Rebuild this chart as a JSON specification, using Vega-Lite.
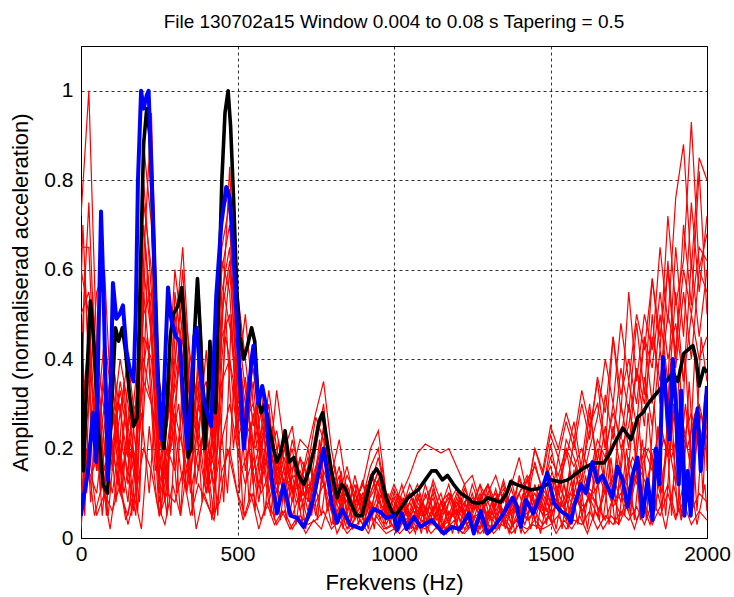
{
"$schema":"https://vega.github.io/schema/vega-lite/v6.json",
"autosize":"none",
"width":626,"height":492,
"padding":{"left":81,"top":46,"right":27,"bottom":59},
"background":"white",
"config":{"view":{"stroke":"#000","strokeWidth":1},"font":"Liberation Sans",
"axis":{"labelFont":"Liberation Sans","titleFont":"Liberation Sans","labelFontSize":21,"titleFontSize":22,"titleFontWeight":"normal","labelColor":"#000","titleColor":"#000","domainColor":"#000","grid":true,"gridColor":"#000","gridDash":[3,3],"gridOpacity":0.8,"gridWidth":1,"ticks":false,"labelFlush":false}},
"title":{"text":"File 130702a15 Window 0.004 to 0.08 s Tapering = 0.5","fontSize":19,"fontWeight":"normal","font":"Liberation Sans","color":"#000","offset":14,"anchor":"middle"},
"datasets":{
"red":[
{"s":1,"f":0,"a":0.72},{"s":1,"f":25,"a":1.0},{"s":1,"f":50,"a":0.42},{"s":1,"f":75,"a":0.28},{"s":1,"f":100,"a":0.18},{"s":1,"f":125,"a":0.33},{"s":1,"f":150,"a":0.22},{"s":1,"f":175,"a":0.12},{"s":1,"f":200,"a":0.62},{"s":1,"f":225,"a":0.95},
{"s":1,"f":250,"a":0.3},{"s":1,"f":275,"a":0.12},{"s":1,"f":300,"a":0.38},{"s":1,"f":325,"a":0.6},{"s":1,"f":350,"a":0.28},{"s":1,"f":375,"a":0.22},{"s":1,"f":400,"a":0.42},{"s":1,"f":425,"a":0.18},{"s":1,"f":450,"a":0.48},{"s":1,"f":475,"a":0.83},
{"s":1,"f":500,"a":0.42},{"s":1,"f":525,"a":0.3},{"s":1,"f":550,"a":0.38},{"s":1,"f":575,"a":0.22},{"s":1,"f":600,"a":0.28},{"s":1,"f":625,"a":0.15},{"s":1,"f":650,"a":0.2},{"s":1,"f":675,"a":0.1},{"s":1,"f":700,"a":0.18},{"s":1,"f":725,"a":0.08},
{"s":1,"f":750,"a":0.2},{"s":1,"f":775,"a":0.3},{"s":1,"f":800,"a":0.12},{"s":1,"f":825,"a":0.06},{"s":1,"f":850,"a":0.11},{"s":1,"f":875,"a":0.04},{"s":1,"f":900,"a":0.09},{"s":1,"f":925,"a":0.16},{"s":1,"f":950,"a":0.2},{"s":1,"f":975,"a":0.07},
{"s":1,"f":1000,"a":0.04},{"s":1,"f":1025,"a":0.09},{"s":1,"f":1050,"a":0.03},{"s":1,"f":1075,"a":0.07},{"s":1,"f":1100,"a":0.05},{"s":1,"f":1125,"a":0.09},{"s":1,"f":1150,"a":0.02},{"s":1,"f":1175,"a":0.06},{"s":1,"f":1200,"a":0.04},{"s":1,"f":1225,"a":0.08},
{"s":1,"f":1250,"a":0.03},{"s":1,"f":1275,"a":0.09},{"s":1,"f":1300,"a":0.05},{"s":1,"f":1325,"a":0.11},{"s":1,"f":1350,"a":0.04},{"s":1,"f":1375,"a":0.09},{"s":1,"f":1400,"a":0.06},{"s":1,"f":1425,"a":0.13},{"s":1,"f":1450,"a":0.07},{"s":1,"f":1475,"a":0.11},
{"s":1,"f":1500,"a":0.08},{"s":1,"f":1525,"a":0.18},{"s":1,"f":1550,"a":0.1},{"s":1,"f":1575,"a":0.22},{"s":1,"f":1600,"a":0.13},{"s":1,"f":1625,"a":0.28},{"s":1,"f":1650,"a":0.17},{"s":1,"f":1675,"a":0.32},{"s":1,"f":1700,"a":0.22},{"s":1,"f":1725,"a":0.38},
{"s":1,"f":1750,"a":0.28},{"s":1,"f":1775,"a":0.48},{"s":1,"f":1800,"a":0.32},{"s":1,"f":1825,"a":0.58},{"s":1,"f":1850,"a":0.42},{"s":1,"f":1875,"a":0.72},{"s":1,"f":1900,"a":0.52},{"s":1,"f":1925,"a":0.62},{"s":1,"f":1950,"a":0.93},{"s":1,"f":1975,"a":0.6},{"s":1,"f":2000,"a":0.68},
{"s":2,"f":0,"a":0.6},{"s":2,"f":25,"a":0.5},{"s":2,"f":50,"a":0.2},{"s":2,"f":75,"a":0.35},{"s":2,"f":100,"a":0.15},{"s":2,"f":125,"a":0.28},{"s":2,"f":150,"a":0.4},{"s":2,"f":175,"a":0.25},{"s":2,"f":200,"a":0.88},{"s":2,"f":225,"a":0.7},
{"s":2,"f":250,"a":0.15},{"s":2,"f":275,"a":0.25},{"s":2,"f":300,"a":0.5},{"s":2,"f":325,"a":0.35},{"s":2,"f":350,"a":0.2},{"s":2,"f":375,"a":0.38},{"s":2,"f":400,"a":0.15},{"s":2,"f":425,"a":0.3},{"s":2,"f":450,"a":0.72},{"s":2,"f":475,"a":0.78},
{"s":2,"f":500,"a":0.55},{"s":2,"f":525,"a":0.4},{"s":2,"f":550,"a":0.25},{"s":2,"f":575,"a":0.33},{"s":2,"f":600,"a":0.18},{"s":2,"f":625,"a":0.24},{"s":2,"f":650,"a":0.14},{"s":2,"f":675,"a":0.2},{"s":2,"f":700,"a":0.09},{"s":2,"f":725,"a":0.16},
{"s":2,"f":750,"a":0.27},{"s":2,"f":775,"a":0.22},{"s":2,"f":800,"a":0.08},{"s":2,"f":825,"a":0.14},{"s":2,"f":850,"a":0.06},{"s":2,"f":875,"a":0.12},{"s":2,"f":900,"a":0.04},{"s":2,"f":925,"a":0.1},{"s":2,"f":950,"a":0.15},{"s":2,"f":975,"a":0.05},
{"s":2,"f":1000,"a":0.09},{"s":2,"f":1025,"a":0.04},{"s":2,"f":1050,"a":0.1},{"s":2,"f":1075,"a":0.05},{"s":2,"f":1100,"a":0.12},{"s":2,"f":1125,"a":0.06},{"s":2,"f":1150,"a":0.1},{"s":2,"f":1175,"a":0.03},{"s":2,"f":1200,"a":0.08},{"s":2,"f":1225,"a":0.05},
{"s":2,"f":1250,"a":0.1},{"s":2,"f":1275,"a":0.04},{"s":2,"f":1300,"a":0.12},{"s":2,"f":1325,"a":0.06},{"s":2,"f":1350,"a":0.1},{"s":2,"f":1375,"a":0.03},{"s":2,"f":1400,"a":0.14},{"s":2,"f":1425,"a":0.08},{"s":2,"f":1450,"a":0.17},{"s":2,"f":1475,"a":0.1},
{"s":2,"f":1500,"a":0.21},{"s":2,"f":1525,"a":0.12},{"s":2,"f":1550,"a":0.18},{"s":2,"f":1575,"a":0.26},{"s":2,"f":1600,"a":0.15},{"s":2,"f":1625,"a":0.24},{"s":2,"f":1650,"a":0.35},{"s":2,"f":1675,"a":0.2},{"s":2,"f":1700,"a":0.45},{"s":2,"f":1725,"a":0.28},
{"s":2,"f":1750,"a":0.55},{"s":2,"f":1775,"a":0.35},{"s":2,"f":1800,"a":0.5},{"s":2,"f":1825,"a":0.42},{"s":2,"f":1850,"a":0.65},{"s":2,"f":1875,"a":0.48},{"s":2,"f":1900,"a":0.76},{"s":2,"f":1925,"a":0.88},{"s":2,"f":1950,"a":0.6},{"s":2,"f":1975,"a":0.85},{"s":2,"f":2000,"a":0.8},
{"s":3,"f":0,"a":0.4},{"s":3,"f":25,"a":0.75},{"s":3,"f":50,"a":0.3},{"s":3,"f":75,"a":0.1},{"s":3,"f":100,"a":0.35},{"s":3,"f":125,"a":0.2},{"s":3,"f":150,"a":0.08},{"s":3,"f":175,"a":0.3},{"s":3,"f":200,"a":0.75},{"s":3,"f":225,"a":0.6},
{"s":3,"f":250,"a":0.25},{"s":3,"f":275,"a":0.1},{"s":3,"f":300,"a":0.45},{"s":3,"f":325,"a":0.65},{"s":3,"f":350,"a":0.35},{"s":3,"f":375,"a":0.25},{"s":3,"f":400,"a":0.1},{"s":3,"f":425,"a":0.28},{"s":3,"f":450,"a":0.6},{"s":3,"f":475,"a":0.7},
{"s":3,"f":500,"a":0.35},{"s":3,"f":525,"a":0.5},{"s":3,"f":550,"a":0.3},{"s":3,"f":575,"a":0.18},{"s":3,"f":600,"a":0.33},{"s":3,"f":625,"a":0.2},{"s":3,"f":650,"a":0.12},{"s":3,"f":675,"a":0.22},{"s":3,"f":700,"a":0.14},{"s":3,"f":725,"a":0.06},
{"s":3,"f":750,"a":0.14},{"s":3,"f":775,"a":0.25},{"s":3,"f":800,"a":0.1},{"s":3,"f":825,"a":0.16},{"s":3,"f":850,"a":0.05},{"s":3,"f":875,"a":0.14},{"s":3,"f":900,"a":0.07},{"s":3,"f":925,"a":0.12},{"s":3,"f":950,"a":0.18},{"s":3,"f":975,"a":0.09},
{"s":3,"f":1000,"a":0.06},{"s":3,"f":1025,"a":0.12},{"s":3,"f":1050,"a":0.05},{"s":3,"f":1075,"a":0.1},{"s":3,"f":1100,"a":0.03},{"s":3,"f":1125,"a":0.11},{"s":3,"f":1150,"a":0.06},{"s":3,"f":1175,"a":0.09},{"s":3,"f":1200,"a":0.03},{"s":3,"f":1225,"a":0.1},
{"s":3,"f":1250,"a":0.06},{"s":3,"f":1275,"a":0.12},{"s":3,"f":1300,"a":0.03},{"s":3,"f":1325,"a":0.08},{"s":3,"f":1350,"a":0.12},{"s":3,"f":1375,"a":0.05},{"s":3,"f":1400,"a":0.1},{"s":3,"f":1425,"a":0.04},{"s":3,"f":1450,"a":0.12},{"s":3,"f":1475,"a":0.06},
{"s":3,"f":1500,"a":0.14},{"s":3,"f":1525,"a":0.08},{"s":3,"f":1550,"a":0.2},{"s":3,"f":1575,"a":0.1},{"s":3,"f":1600,"a":0.17},{"s":3,"f":1625,"a":0.3},{"s":3,"f":1650,"a":0.14},{"s":3,"f":1675,"a":0.25},{"s":3,"f":1700,"a":0.1},{"s":3,"f":1725,"a":0.3},
{"s":3,"f":1750,"a":0.2},{"s":3,"f":1775,"a":0.38},{"s":3,"f":1800,"a":0.25},{"s":3,"f":1825,"a":0.5},{"s":3,"f":1850,"a":0.3},{"s":3,"f":1875,"a":0.62},{"s":3,"f":1900,"a":0.4},{"s":3,"f":1925,"a":0.7},{"s":3,"f":1950,"a":0.52},{"s":3,"f":1975,"a":0.82},{"s":3,"f":2000,"a":0.5},
{"s":4,"f":0,"a":0.25},{"s":4,"f":25,"a":0.45},{"s":4,"f":50,"a":0.15},{"s":4,"f":75,"a":0.3},{"s":4,"f":100,"a":0.2},{"s":4,"f":125,"a":0.1},{"s":4,"f":150,"a":0.25},{"s":4,"f":175,"a":0.15},{"s":4,"f":200,"a":0.8},{"s":4,"f":225,"a":0.55},
{"s":4,"f":250,"a":0.2},{"s":4,"f":275,"a":0.3},{"s":4,"f":300,"a":0.6},{"s":4,"f":325,"a":0.45},{"s":4,"f":350,"a":0.15},{"s":4,"f":375,"a":0.3},{"s":4,"f":400,"a":0.2},{"s":4,"f":425,"a":0.12},{"s":4,"f":450,"a":0.55},{"s":4,"f":475,"a":0.65},
{"s":4,"f":500,"a":0.3},{"s":4,"f":525,"a":0.2},{"s":4,"f":550,"a":0.42},{"s":4,"f":575,"a":0.27},{"s":4,"f":600,"a":0.15},{"s":4,"f":625,"a":0.33},{"s":4,"f":650,"a":0.2},{"s":4,"f":675,"a":0.25},{"s":4,"f":700,"a":0.12},{"s":4,"f":725,"a":0.2},
{"s":4,"f":750,"a":0.1},{"s":4,"f":775,"a":0.18},{"s":4,"f":800,"a":0.14},{"s":4,"f":825,"a":0.22},{"s":4,"f":850,"a":0.1},{"s":4,"f":875,"a":0.07},{"s":4,"f":900,"a":0.13},{"s":4,"f":925,"a":0.05},{"s":4,"f":950,"a":0.1},{"s":4,"f":975,"a":0.08},
{"s":4,"f":1000,"a":0.05},{"s":4,"f":1025,"a":0.1},{"s":4,"f":1050,"a":0.14},{"s":4,"f":1075,"a":0.19},{"s":4,"f":1100,"a":0.21},{"s":4,"f":1125,"a":0.2},{"s":4,"f":1150,"a":0.19},{"s":4,"f":1175,"a":0.2},{"s":4,"f":1200,"a":0.16},{"s":4,"f":1225,"a":0.12},
{"s":4,"f":1250,"a":0.14},{"s":4,"f":1275,"a":0.08},{"s":4,"f":1300,"a":0.12},{"s":4,"f":1325,"a":0.05},{"s":4,"f":1350,"a":0.1},{"s":4,"f":1375,"a":0.07},{"s":4,"f":1400,"a":0.13},{"s":4,"f":1425,"a":0.09},{"s":4,"f":1450,"a":0.2},{"s":4,"f":1475,"a":0.14},
{"s":4,"f":1500,"a":0.23},{"s":4,"f":1525,"a":0.18},{"s":4,"f":1550,"a":0.26},{"s":4,"f":1575,"a":0.2},{"s":4,"f":1600,"a":0.3},{"s":4,"f":1625,"a":0.22},{"s":4,"f":1650,"a":0.36},{"s":4,"f":1675,"a":0.28},{"s":4,"f":1700,"a":0.45},{"s":4,"f":1725,"a":0.32},
{"s":4,"f":1750,"a":0.4},{"s":4,"f":1775,"a":0.3},{"s":4,"f":1800,"a":0.45},{"s":4,"f":1825,"a":0.38},{"s":4,"f":1850,"a":0.55},{"s":4,"f":1875,"a":0.4},{"s":4,"f":1900,"a":0.48},{"s":4,"f":1925,"a":0.35},{"s":4,"f":1950,"a":0.62},{"s":4,"f":1975,"a":0.45},{"s":4,"f":2000,"a":0.6},
{"s":5,"f":0,"a":0.15},{"s":5,"f":25,"a":0.3},{"s":5,"f":50,"a":0.55},{"s":5,"f":75,"a":0.6},{"s":5,"f":100,"a":0.25},{"s":5,"f":125,"a":0.4},{"s":5,"f":150,"a":0.3},{"s":5,"f":175,"a":0.15},{"s":5,"f":200,"a":0.7},{"s":5,"f":225,"a":0.5},
{"s":5,"f":250,"a":0.1},{"s":5,"f":275,"a":0.2},{"s":5,"f":300,"a":0.35},{"s":5,"f":325,"a":0.5},{"s":5,"f":350,"a":0.3},{"s":5,"f":375,"a":0.58},{"s":5,"f":400,"a":0.25},{"s":5,"f":425,"a":0.35},{"s":5,"f":450,"a":0.65},{"s":5,"f":475,"a":0.75},
{"s":5,"f":500,"a":0.48},{"s":5,"f":525,"a":0.33},{"s":5,"f":550,"a":0.2},{"s":5,"f":575,"a":0.28},{"s":5,"f":600,"a":0.22},{"s":5,"f":625,"a":0.13},{"s":5,"f":650,"a":0.2},{"s":5,"f":675,"a":0.15},{"s":5,"f":700,"a":0.22},{"s":5,"f":725,"a":0.2},
{"s":5,"f":750,"a":0.28},{"s":5,"f":775,"a":0.35},{"s":5,"f":800,"a":0.2},{"s":5,"f":825,"a":0.1},{"s":5,"f":850,"a":0.16},{"s":5,"f":875,"a":0.08},{"s":5,"f":900,"a":0.12},{"s":5,"f":925,"a":0.2},{"s":5,"f":950,"a":0.24},{"s":5,"f":975,"a":0.1},
{"s":5,"f":1000,"a":0.08},{"s":5,"f":1025,"a":0.05},{"s":5,"f":1050,"a":0.08},{"s":5,"f":1075,"a":0.04},{"s":5,"f":1100,"a":0.1},{"s":5,"f":1125,"a":0.05},{"s":5,"f":1150,"a":0.07},{"s":5,"f":1175,"a":0.12},{"s":5,"f":1200,"a":0.05},{"s":5,"f":1225,"a":0.08},
{"s":5,"f":1250,"a":0.05},{"s":5,"f":1275,"a":0.1},{"s":5,"f":1300,"a":0.04},{"s":5,"f":1325,"a":0.09},{"s":5,"f":1350,"a":0.06},{"s":5,"f":1375,"a":0.11},{"s":5,"f":1400,"a":0.05},{"s":5,"f":1425,"a":0.09},{"s":5,"f":1450,"a":0.04},{"s":5,"f":1475,"a":0.1},
{"s":5,"f":1500,"a":0.06},{"s":5,"f":1525,"a":0.12},{"s":5,"f":1550,"a":0.08},{"s":5,"f":1575,"a":0.15},{"s":5,"f":1600,"a":0.1},{"s":5,"f":1625,"a":0.13},{"s":5,"f":1650,"a":0.2},{"s":5,"f":1675,"a":0.12},{"s":5,"f":1700,"a":0.25},{"s":5,"f":1725,"a":0.15},
{"s":5,"f":1750,"a":0.3},{"s":5,"f":1775,"a":0.18},{"s":5,"f":1800,"a":0.36},{"s":5,"f":1825,"a":0.25},{"s":5,"f":1850,"a":0.42},{"s":5,"f":1875,"a":0.3},{"s":5,"f":1900,"a":0.55},{"s":5,"f":1925,"a":0.35},{"s":5,"f":1950,"a":0.5},{"s":5,"f":1975,"a":0.4},{"s":5,"f":2000,"a":0.45},
{"s":6,"f":0,"a":0.05},{"s":6,"f":25,"a":0.4},{"s":6,"f":50,"a":0.25},{"s":6,"f":75,"a":0.45},{"s":6,"f":100,"a":0.3},{"s":6,"f":125,"a":0.15},{"s":6,"f":150,"a":0.35},{"s":6,"f":175,"a":0.2},{"s":6,"f":200,"a":0.6},{"s":6,"f":225,"a":0.45},
{"s":6,"f":250,"a":0.08},{"s":6,"f":275,"a":0.18},{"s":6,"f":300,"a":0.3},{"s":6,"f":325,"a":0.45},{"s":6,"f":350,"a":0.2},{"s":6,"f":375,"a":0.35},{"s":6,"f":400,"a":0.12},{"s":6,"f":425,"a":0.25},{"s":6,"f":450,"a":0.45},{"s":6,"f":475,"a":0.5},
{"s":6,"f":500,"a":0.28},{"s":6,"f":525,"a":0.22},{"s":6,"f":550,"a":0.35},{"s":6,"f":575,"a":0.15},{"s":6,"f":600,"a":0.25},{"s":6,"f":625,"a":0.1},{"s":6,"f":650,"a":0.16},{"s":6,"f":675,"a":0.08},{"s":6,"f":700,"a":0.15},{"s":6,"f":725,"a":0.1},
{"s":6,"f":750,"a":0.16},{"s":6,"f":775,"a":0.12},{"s":6,"f":800,"a":0.06},{"s":6,"f":825,"a":0.1},{"s":6,"f":850,"a":0.04},{"s":6,"f":875,"a":0.08},{"s":6,"f":900,"a":0.12},{"s":6,"f":925,"a":0.06},{"s":6,"f":950,"a":0.13},{"s":6,"f":975,"a":0.04},
{"s":6,"f":1000,"a":0.1},{"s":6,"f":1025,"a":0.06},{"s":6,"f":1050,"a":0.12},{"s":6,"f":1075,"a":0.08},{"s":6,"f":1100,"a":0.05},{"s":6,"f":1125,"a":0.1},{"s":6,"f":1150,"a":0.04},{"s":6,"f":1175,"a":0.08},{"s":6,"f":1200,"a":0.11},{"s":6,"f":1225,"a":0.05},
{"s":6,"f":1250,"a":0.12},{"s":6,"f":1275,"a":0.07},{"s":6,"f":1300,"a":0.1},{"s":6,"f":1325,"a":0.14},{"s":6,"f":1350,"a":0.08},{"s":6,"f":1375,"a":0.12},{"s":6,"f":1400,"a":0.18},{"s":6,"f":1425,"a":0.1},{"s":6,"f":1450,"a":0.2},{"s":6,"f":1475,"a":0.15},
{"s":6,"f":1500,"a":0.25},{"s":6,"f":1525,"a":0.2},{"s":6,"f":1550,"a":0.28},{"s":6,"f":1575,"a":0.22},{"s":6,"f":1600,"a":0.33},{"s":6,"f":1625,"a":0.25},{"s":6,"f":1650,"a":0.3},{"s":6,"f":1675,"a":0.2},{"s":6,"f":1700,"a":0.28},{"s":6,"f":1725,"a":0.22},
{"s":6,"f":1750,"a":0.35},{"s":6,"f":1775,"a":0.25},{"s":6,"f":1800,"a":0.45},{"s":6,"f":1825,"a":0.3},{"s":6,"f":1850,"a":0.5},{"s":6,"f":1875,"a":0.35},{"s":6,"f":1900,"a":0.65},{"s":6,"f":1925,"a":0.45},{"s":6,"f":1950,"a":0.75},{"s":6,"f":1975,"a":0.55},{"s":6,"f":2000,"a":0.72},
{"s":7,"f":0,"a":0.3},{"s":7,"f":25,"a":0.2},{"s":7,"f":50,"a":0.35},{"s":7,"f":75,"a":0.15},{"s":7,"f":100,"a":0.25},{"s":7,"f":125,"a":0.3},{"s":7,"f":150,"a":0.12},{"s":7,"f":175,"a":0.2},{"s":7,"f":200,"a":0.35},{"s":7,"f":225,"a":0.3},
{"s":7,"f":250,"a":0.12},{"s":7,"f":275,"a":0.2},{"s":7,"f":300,"a":0.15},{"s":7,"f":325,"a":0.3},{"s":7,"f":350,"a":0.1},{"s":7,"f":375,"a":0.2},{"s":7,"f":400,"a":0.25},{"s":7,"f":425,"a":0.1},{"s":7,"f":450,"a":0.22},{"s":7,"f":475,"a":0.3},
{"s":7,"f":500,"a":0.2},{"s":7,"f":525,"a":0.12},{"s":7,"f":550,"a":0.18},{"s":7,"f":575,"a":0.1},{"s":7,"f":600,"a":0.14},{"s":7,"f":625,"a":0.06},{"s":7,"f":650,"a":0.12},{"s":7,"f":675,"a":0.05},{"s":7,"f":700,"a":0.1},{"s":7,"f":725,"a":0.04},
{"s":7,"f":750,"a":0.08},{"s":7,"f":775,"a":0.12},{"s":7,"f":800,"a":0.03},{"s":7,"f":825,"a":0.07},{"s":7,"f":850,"a":0.02},{"s":7,"f":875,"a":0.06},{"s":7,"f":900,"a":0.03},{"s":7,"f":925,"a":0.08},{"s":7,"f":950,"a":0.05},{"s":7,"f":975,"a":0.02},
{"s":7,"f":1000,"a":0.03},{"s":7,"f":1025,"a":0.06},{"s":7,"f":1050,"a":0.02},{"s":7,"f":1075,"a":0.05},{"s":7,"f":1100,"a":0.03},{"s":7,"f":1125,"a":0.07},{"s":7,"f":1150,"a":0.02},{"s":7,"f":1175,"a":0.04},{"s":7,"f":1200,"a":0.06},{"s":7,"f":1225,"a":0.02},
{"s":7,"f":1250,"a":0.05},{"s":7,"f":1275,"a":0.02},{"s":7,"f":1300,"a":0.06},{"s":7,"f":1325,"a":0.03},{"s":7,"f":1350,"a":0.05},{"s":7,"f":1375,"a":0.02},{"s":7,"f":1400,"a":0.07},{"s":7,"f":1425,"a":0.04},{"s":7,"f":1450,"a":0.06},{"s":7,"f":1475,"a":0.03},
{"s":7,"f":1500,"a":0.05},{"s":7,"f":1525,"a":0.08},{"s":7,"f":1550,"a":0.04},{"s":7,"f":1575,"a":0.1},{"s":7,"f":1600,"a":0.06},{"s":7,"f":1625,"a":0.09},{"s":7,"f":1650,"a":0.05},{"s":7,"f":1675,"a":0.12},{"s":7,"f":1700,"a":0.07},{"s":7,"f":1725,"a":0.1},
{"s":7,"f":1750,"a":0.06},{"s":7,"f":1775,"a":0.14},{"s":7,"f":1800,"a":0.08},{"s":7,"f":1825,"a":0.18},{"s":7,"f":1850,"a":0.1},{"s":7,"f":1875,"a":0.22},{"s":7,"f":1900,"a":0.12},{"s":7,"f":1925,"a":0.25},{"s":7,"f":1950,"a":0.15},{"s":7,"f":1975,"a":0.3},{"s":7,"f":2000,"a":0.22},
{"s":8,"f":0,"a":0.5},{"s":8,"f":25,"a":0.55},{"s":8,"f":50,"a":0.4},{"s":8,"f":75,"a":0.2},{"s":8,"f":100,"a":0.1},{"s":8,"f":125,"a":0.22},{"s":8,"f":150,"a":0.15},{"s":8,"f":175,"a":0.05},{"s":8,"f":200,"a":0.45},{"s":8,"f":225,"a":0.4},
{"s":8,"f":250,"a":0.18},{"s":8,"f":275,"a":0.05},{"s":8,"f":300,"a":0.55},{"s":8,"f":325,"a":0.4},{"s":8,"f":350,"a":0.25},{"s":8,"f":375,"a":0.15},{"s":8,"f":400,"a":0.3},{"s":8,"f":425,"a":0.2},{"s":8,"f":450,"a":0.62},{"s":8,"f":475,"a":0.55},
{"s":8,"f":500,"a":0.25},{"s":8,"f":525,"a":0.36},{"s":8,"f":550,"a":0.15},{"s":8,"f":575,"a":0.22},{"s":8,"f":600,"a":0.1},{"s":8,"f":625,"a":0.18},{"s":8,"f":650,"a":0.08},{"s":8,"f":675,"a":0.14},{"s":8,"f":700,"a":0.06},{"s":8,"f":725,"a":0.12},
{"s":8,"f":750,"a":0.1},{"s":8,"f":775,"a":0.2},{"s":8,"f":800,"a":0.08},{"s":8,"f":825,"a":0.12},{"s":8,"f":850,"a":0.03},{"s":8,"f":875,"a":0.1},{"s":8,"f":900,"a":0.05},{"s":8,"f":925,"a":0.14},{"s":8,"f":950,"a":0.1},{"s":8,"f":975,"a":0.03},
{"s":8,"f":1000,"a":0.07},{"s":8,"f":1025,"a":0.03},{"s":8,"f":1050,"a":0.08},{"s":8,"f":1075,"a":0.12},{"s":8,"f":1100,"a":0.06},{"s":8,"f":1125,"a":0.13},{"s":8,"f":1150,"a":0.08},{"s":8,"f":1175,"a":0.1},{"s":8,"f":1200,"a":0.05},{"s":8,"f":1225,"a":0.11},
{"s":8,"f":1250,"a":0.07},{"s":8,"f":1275,"a":0.12},{"s":8,"f":1300,"a":0.08},{"s":8,"f":1325,"a":0.04},{"s":8,"f":1350,"a":0.09},{"s":8,"f":1375,"a":0.13},{"s":8,"f":1400,"a":0.05},{"s":8,"f":1425,"a":0.11},{"s":8,"f":1450,"a":0.06},{"s":8,"f":1475,"a":0.09},
{"s":8,"f":1500,"a":0.04},{"s":8,"f":1525,"a":0.1},{"s":8,"f":1550,"a":0.06},{"s":8,"f":1575,"a":0.13},{"s":8,"f":1600,"a":0.05},{"s":8,"f":1625,"a":0.1},{"s":8,"f":1650,"a":0.07},{"s":8,"f":1675,"a":0.04},{"s":8,"f":1700,"a":0.09},{"s":8,"f":1725,"a":0.05},
{"s":8,"f":1750,"a":0.1},{"s":8,"f":1775,"a":0.04},{"s":8,"f":1800,"a":0.08},{"s":8,"f":1825,"a":0.03},{"s":8,"f":1850,"a":0.07},{"s":8,"f":1875,"a":0.12},{"s":8,"f":1900,"a":0.05},{"s":8,"f":1925,"a":0.08},{"s":8,"f":1950,"a":0.03},{"s":8,"f":1975,"a":0.06},{"s":8,"f":2000,"a":0.04},
{"s":9,"f":0,"a":0.2},{"s":9,"f":25,"a":0.15},{"s":9,"f":50,"a":0.1},{"s":9,"f":75,"a":0.25},{"s":9,"f":100,"a":0.4},{"s":9,"f":125,"a":0.28},{"s":9,"f":150,"a":0.18},{"s":9,"f":175,"a":0.35},{"s":9,"f":200,"a":0.4},{"s":9,"f":225,"a":0.3},
{"s":9,"f":250,"a":0.22},{"s":9,"f":275,"a":0.35},{"s":9,"f":300,"a":0.25},{"s":9,"f":325,"a":0.12},{"s":9,"f":350,"a":0.35},{"s":9,"f":375,"a":0.2},{"s":9,"f":400,"a":0.1},{"s":9,"f":425,"a":0.2},{"s":9,"f":450,"a":0.35},{"s":9,"f":475,"a":0.4},
{"s":9,"f":500,"a":0.22},{"s":9,"f":525,"a":0.28},{"s":9,"f":550,"a":0.12},{"s":9,"f":575,"a":0.2},{"s":9,"f":600,"a":0.08},{"s":9,"f":625,"a":0.15},{"s":9,"f":650,"a":0.22},{"s":9,"f":675,"a":0.1},{"s":9,"f":700,"a":0.18},{"s":9,"f":725,"a":0.14},
{"s":9,"f":750,"a":0.05},{"s":9,"f":775,"a":0.15},{"s":9,"f":800,"a":0.1},{"s":9,"f":825,"a":0.04},{"s":9,"f":850,"a":0.12},{"s":9,"f":875,"a":0.06},{"s":9,"f":900,"a":0.1},{"s":9,"f":925,"a":0.04},{"s":9,"f":950,"a":0.08},{"s":9,"f":975,"a":0.06},
{"s":9,"f":1000,"a":0.02},{"s":9,"f":1025,"a":0.08},{"s":9,"f":1050,"a":0.05},{"s":9,"f":1075,"a":0.02},{"s":9,"f":1100,"a":0.07},{"s":9,"f":1125,"a":0.04},{"s":9,"f":1150,"a":0.08},{"s":9,"f":1175,"a":0.03},{"s":9,"f":1200,"a":0.09},{"s":9,"f":1225,"a":0.04},
{"s":9,"f":1250,"a":0.08},{"s":9,"f":1275,"a":0.05},{"s":9,"f":1300,"a":0.1},{"s":9,"f":1325,"a":0.07},{"s":9,"f":1350,"a":0.13},{"s":9,"f":1375,"a":0.06},{"s":9,"f":1400,"a":0.1},{"s":9,"f":1425,"a":0.14},{"s":9,"f":1450,"a":0.08},{"s":9,"f":1475,"a":0.12},
{"s":9,"f":1500,"a":0.16},{"s":9,"f":1525,"a":0.1},{"s":9,"f":1550,"a":0.22},{"s":9,"f":1575,"a":0.18},{"s":9,"f":1600,"a":0.12},{"s":9,"f":1625,"a":0.2},{"s":9,"f":1650,"a":0.27},{"s":9,"f":1675,"a":0.4},{"s":9,"f":1700,"a":0.3},{"s":9,"f":1725,"a":0.48},
{"s":9,"f":1750,"a":0.35},{"s":9,"f":1775,"a":0.5},{"s":9,"f":1800,"a":0.42},{"s":9,"f":1825,"a":0.58},{"s":9,"f":1850,"a":0.45},{"s":9,"f":1875,"a":0.6},{"s":9,"f":1900,"a":0.38},{"s":9,"f":1925,"a":0.55},{"s":9,"f":1950,"a":0.4},{"s":9,"f":1975,"a":0.6},{"s":9,"f":2000,"a":0.55},
{"s":10,"f":0,"a":0.65},{"s":10,"f":25,"a":0.65},{"s":10,"f":50,"a":0.25},{"s":10,"f":75,"a":0.12},{"s":10,"f":100,"a":0.3},{"s":10,"f":125,"a":0.1},{"s":10,"f":150,"a":0.05},{"s":10,"f":175,"a":0.18},{"s":10,"f":200,"a":0.55},{"s":10,"f":225,"a":0.35},
{"s":10,"f":250,"a":0.05},{"s":10,"f":275,"a":0.15},{"s":10,"f":300,"a":0.28},{"s":10,"f":325,"a":0.2},{"s":10,"f":350,"a":0.12},{"s":10,"f":375,"a":0.42},{"s":10,"f":400,"a":0.18},{"s":10,"f":425,"a":0.05},{"s":10,"f":450,"a":0.4},{"s":10,"f":475,"a":0.6},
{"s":10,"f":500,"a":0.35},{"s":10,"f":525,"a":0.15},{"s":10,"f":550,"a":0.28},{"s":10,"f":575,"a":0.12},{"s":10,"f":600,"a":0.2},{"s":10,"f":625,"a":0.15},{"s":10,"f":650,"a":0.1},{"s":10,"f":675,"a":0.18},{"s":10,"f":700,"a":0.08},{"s":10,"f":725,"a":0.15},
{"s":10,"f":750,"a":0.22},{"s":10,"f":775,"a":0.28},{"s":10,"f":800,"a":0.12},{"s":10,"f":825,"a":0.08},{"s":10,"f":850,"a":0.14},{"s":10,"f":875,"a":0.1},{"s":10,"f":900,"a":0.06},{"s":10,"f":925,"a":0.1},{"s":10,"f":950,"a":0.15},{"s":10,"f":975,"a":0.06},
{"s":10,"f":1000,"a":0.11},{"s":10,"f":1025,"a":0.07},{"s":10,"f":1050,"a":0.04},{"s":10,"f":1075,"a":0.09},{"s":10,"f":1100,"a":0.06},{"s":10,"f":1125,"a":0.03},{"s":10,"f":1150,"a":0.08},{"s":10,"f":1175,"a":0.05},{"s":10,"f":1200,"a":0.1},{"s":10,"f":1225,"a":0.06},
{"s":10,"f":1250,"a":0.09},{"s":10,"f":1275,"a":0.06},{"s":10,"f":1300,"a":0.08},{"s":10,"f":1325,"a":0.1},{"s":10,"f":1350,"a":0.03},{"s":10,"f":1375,"a":0.08},{"s":10,"f":1400,"a":0.04},{"s":10,"f":1425,"a":0.07},{"s":10,"f":1450,"a":0.1},{"s":10,"f":1475,"a":0.05},
{"s":10,"f":1500,"a":0.12},{"s":10,"f":1525,"a":0.06},{"s":10,"f":1550,"a":0.1},{"s":10,"f":1575,"a":0.07},{"s":10,"f":1600,"a":0.12},{"s":10,"f":1625,"a":0.08},{"s":10,"f":1650,"a":0.15},{"s":10,"f":1675,"a":0.1},{"s":10,"f":1700,"a":0.14},{"s":10,"f":1725,"a":0.08},
{"s":10,"f":1750,"a":0.18},{"s":10,"f":1775,"a":0.12},{"s":10,"f":1800,"a":0.2},{"s":10,"f":1825,"a":0.15},{"s":10,"f":1850,"a":0.26},{"s":10,"f":1875,"a":0.18},{"s":10,"f":1900,"a":0.3},{"s":10,"f":1925,"a":0.22},{"s":10,"f":1950,"a":0.28},{"s":10,"f":1975,"a":0.2},{"s":10,"f":2000,"a":0.2},
{"s":11,"f":0,"a":0.1},{"s":11,"f":25,"a":0.2},{"s":11,"f":50,"a":0.05},{"s":11,"f":75,"a":0.1},{"s":11,"f":100,"a":0.06},{"s":11,"f":125,"a":0.12},{"s":11,"f":150,"a":0.03},{"s":11,"f":175,"a":0.1},{"s":11,"f":200,"a":0.2},{"s":11,"f":225,"a":0.15},
{"s":11,"f":250,"a":0.05},{"s":11,"f":275,"a":0.1},{"s":11,"f":300,"a":0.08},{"s":11,"f":325,"a":0.15},{"s":11,"f":350,"a":0.05},{"s":11,"f":375,"a":0.12},{"s":11,"f":400,"a":0.08},{"s":11,"f":425,"a":0.04},{"s":11,"f":450,"a":0.15},{"s":11,"f":475,"a":0.2},
{"s":11,"f":500,"a":0.1},{"s":11,"f":525,"a":0.05},{"s":11,"f":550,"a":0.1},{"s":11,"f":575,"a":0.04},{"s":11,"f":600,"a":0.08},{"s":11,"f":625,"a":0.03},{"s":11,"f":650,"a":0.06},{"s":11,"f":675,"a":0.02},{"s":11,"f":700,"a":0.05},{"s":11,"f":725,"a":0.03},
{"s":11,"f":750,"a":0.04},{"s":11,"f":775,"a":0.06},{"s":11,"f":800,"a":0.02},{"s":11,"f":825,"a":0.04},{"s":11,"f":850,"a":0.01},{"s":11,"f":875,"a":0.03},{"s":11,"f":900,"a":0.02},{"s":11,"f":925,"a":0.05},{"s":11,"f":950,"a":0.03},{"s":11,"f":975,"a":0.01},
{"s":11,"f":1000,"a":0.02},{"s":11,"f":1025,"a":0.04},{"s":11,"f":1050,"a":0.01},{"s":11,"f":1075,"a":0.03},{"s":11,"f":1100,"a":0.02},{"s":11,"f":1125,"a":0.04},{"s":11,"f":1150,"a":0.01},{"s":11,"f":1175,"a":0.03},{"s":11,"f":1200,"a":0.02},{"s":11,"f":1225,"a":0.01},
{"s":11,"f":1250,"a":0.03},{"s":11,"f":1275,"a":0.01},{"s":11,"f":1300,"a":0.03},{"s":11,"f":1325,"a":0.02},{"s":11,"f":1350,"a":0.04},{"s":11,"f":1375,"a":0.01},{"s":11,"f":1400,"a":0.03},{"s":11,"f":1425,"a":0.02},{"s":11,"f":1450,"a":0.04},{"s":11,"f":1475,"a":0.02},
{"s":11,"f":1500,"a":0.03},{"s":11,"f":1525,"a":0.05},{"s":11,"f":1550,"a":0.02},{"s":11,"f":1575,"a":0.04},{"s":11,"f":1600,"a":0.03},{"s":11,"f":1625,"a":0.06},{"s":11,"f":1650,"a":0.02},{"s":11,"f":1675,"a":0.05},{"s":11,"f":1700,"a":0.03},{"s":11,"f":1725,"a":0.06},
{"s":11,"f":1750,"a":0.04},{"s":11,"f":1775,"a":0.07},{"s":11,"f":1800,"a":0.03},{"s":11,"f":1825,"a":0.08},{"s":11,"f":1850,"a":0.05},{"s":11,"f":1875,"a":0.1},{"s":11,"f":1900,"a":0.04},{"s":11,"f":1925,"a":0.12},{"s":11,"f":1950,"a":0.06},{"s":11,"f":1975,"a":0.1},{"s":11,"f":2000,"a":0.08},
{"s":12,"f":0,"a":0.35},{"s":12,"f":25,"a":0.35},{"s":12,"f":50,"a":0.15},{"s":12,"f":75,"a":0.4},{"s":12,"f":100,"a":0.2},{"s":12,"f":125,"a":0.35},{"s":12,"f":150,"a":0.25},{"s":12,"f":175,"a":0.3},{"s":12,"f":200,"a":0.5},{"s":12,"f":225,"a":0.55},
{"s":12,"f":250,"a":0.35},{"s":12,"f":275,"a":0.25},{"s":12,"f":300,"a":0.4},{"s":12,"f":325,"a":0.55},{"s":12,"f":350,"a":0.4},{"s":12,"f":375,"a":0.3},{"s":12,"f":400,"a":0.35},{"s":12,"f":425,"a":0.22},{"s":12,"f":450,"a":0.5},{"s":12,"f":475,"a":0.62},
{"s":12,"f":500,"a":0.45},{"s":12,"f":525,"a":0.26},{"s":12,"f":550,"a":0.3},{"s":12,"f":575,"a":0.2},{"s":12,"f":600,"a":0.3},{"s":12,"f":625,"a":0.12},{"s":12,"f":650,"a":0.18},{"s":12,"f":675,"a":0.1},{"s":12,"f":700,"a":0.12},{"s":12,"f":725,"a":0.18},
{"s":12,"f":750,"a":0.12},{"s":12,"f":775,"a":0.24},{"s":12,"f":800,"a":0.16},{"s":12,"f":825,"a":0.08},{"s":12,"f":850,"a":0.1},{"s":12,"f":875,"a":0.05},{"s":12,"f":900,"a":0.08},{"s":12,"f":925,"a":0.14},{"s":12,"f":950,"a":0.12},{"s":12,"f":975,"a":0.07},
{"s":12,"f":1000,"a":0.12},{"s":12,"f":1025,"a":0.08},{"s":12,"f":1050,"a":0.1},{"s":12,"f":1075,"a":0.06},{"s":12,"f":1100,"a":0.09},{"s":12,"f":1125,"a":0.12},{"s":12,"f":1150,"a":0.05},{"s":12,"f":1175,"a":0.1},{"s":12,"f":1200,"a":0.07},{"s":12,"f":1225,"a":0.12},
{"s":12,"f":1250,"a":0.06},{"s":12,"f":1275,"a":0.09},{"s":12,"f":1300,"a":0.12},{"s":12,"f":1325,"a":0.08},{"s":12,"f":1350,"a":0.11},{"s":12,"f":1375,"a":0.07},{"s":12,"f":1400,"a":0.1},{"s":12,"f":1425,"a":0.13},{"s":12,"f":1450,"a":0.16},{"s":12,"f":1475,"a":0.11},
{"s":12,"f":1500,"a":0.18},{"s":12,"f":1525,"a":0.14},{"s":12,"f":1550,"a":0.2},{"s":12,"f":1575,"a":0.16},{"s":12,"f":1600,"a":0.2},{"s":12,"f":1625,"a":0.14},{"s":12,"f":1650,"a":0.22},{"s":12,"f":1675,"a":0.18},{"s":12,"f":1700,"a":0.3},{"s":12,"f":1725,"a":0.2},
{"s":12,"f":1750,"a":0.25},{"s":12,"f":1775,"a":0.38},{"s":12,"f":1800,"a":0.3},{"s":12,"f":1825,"a":0.45},{"s":12,"f":1850,"a":0.35},{"s":12,"f":1875,"a":0.5},{"s":12,"f":1900,"a":0.42},{"s":12,"f":1925,"a":0.6},{"s":12,"f":1950,"a":0.5},{"s":12,"f":1975,"a":0.65},{"s":12,"f":2000,"a":0.62},
{"s":13,"f":0,"a":0.3},{"s":13,"f":12,"a":0.05},{"s":13,"f":37,"a":0.55},{"s":13,"f":62,"a":0.1},{"s":13,"f":87,"a":0.3},{"s":13,"f":112,"a":0.08},{"s":13,"f":137,"a":0.35},{"s":13,"f":162,"a":0.05},{"s":13,"f":187,"a":0.3},{"s":13,"f":212,"a":0.45},{"s":13,"f":237,"a":0.15},
{"s":13,"f":262,"a":0.25},{"s":13,"f":287,"a":0.05},{"s":13,"f":312,"a":0.42},{"s":13,"f":337,"a":0.1},{"s":13,"f":362,"a":0.35},{"s":13,"f":387,"a":0.08},{"s":13,"f":412,"a":0.3},{"s":13,"f":437,"a":0.05},{"s":13,"f":462,"a":0.5},{"s":13,"f":487,"a":0.2},
{"s":13,"f":512,"a":0.38},{"s":13,"f":537,"a":0.08},{"s":13,"f":562,"a":0.3},{"s":13,"f":587,"a":0.05},{"s":13,"f":612,"a":0.25},{"s":13,"f":637,"a":0.04},{"s":13,"f":662,"a":0.2},{"s":13,"f":687,"a":0.03},{"s":13,"f":712,"a":0.17},{"s":13,"f":737,"a":0.05},
{"s":13,"f":762,"a":0.22},{"s":13,"f":787,"a":0.06},{"s":13,"f":812,"a":0.16},{"s":13,"f":837,"a":0.02},{"s":13,"f":862,"a":0.12},{"s":13,"f":887,"a":0.03},{"s":13,"f":912,"a":0.12},{"s":13,"f":937,"a":0.02},{"s":13,"f":962,"a":0.16},{"s":13,"f":987,"a":0.03},
{"s":13,"f":1012,"a":0.1},{"s":13,"f":1037,"a":0.02},{"s":13,"f":1062,"a":0.09},{"s":13,"f":1087,"a":0.01},{"s":13,"f":1112,"a":0.1},{"s":13,"f":1137,"a":0.02},{"s":13,"f":1162,"a":0.08},{"s":13,"f":1187,"a":0.01},{"s":13,"f":1212,"a":0.09},{"s":13,"f":1237,"a":0.02},
{"s":13,"f":1262,"a":0.1},{"s":13,"f":1287,"a":0.01},{"s":13,"f":1312,"a":0.08},{"s":13,"f":1337,"a":0.02},{"s":13,"f":1362,"a":0.09},{"s":13,"f":1387,"a":0.01},{"s":13,"f":1412,"a":0.1},{"s":13,"f":1437,"a":0.02},{"s":13,"f":1462,"a":0.12},{"s":13,"f":1487,"a":0.03},
{"s":13,"f":1512,"a":0.13},{"s":13,"f":1537,"a":0.02},{"s":13,"f":1562,"a":0.15},{"s":13,"f":1587,"a":0.03},{"s":13,"f":1612,"a":0.14},{"s":13,"f":1637,"a":0.04},{"s":13,"f":1662,"a":0.2},{"s":13,"f":1687,"a":0.03},{"s":13,"f":1712,"a":0.18},{"s":13,"f":1737,"a":0.05},
{"s":13,"f":1762,"a":0.26},{"s":13,"f":1787,"a":0.04},{"s":13,"f":1812,"a":0.28},{"s":13,"f":1837,"a":0.06},{"s":13,"f":1862,"a":0.35},{"s":13,"f":1887,"a":0.05},{"s":13,"f":1912,"a":0.38},{"s":13,"f":1937,"a":0.08},{"s":13,"f":1962,"a":0.42},{"s":13,"f":1987,"a":0.1},{"s":13,"f":2000,"a":0.3},
{"s":14,"f":0,"a":0.1},{"s":14,"f":6,"a":0.4},{"s":14,"f":31,"a":0.08},{"s":14,"f":56,"a":0.35},{"s":14,"f":81,"a":0.05},{"s":14,"f":106,"a":0.38},{"s":14,"f":131,"a":0.1},{"s":14,"f":156,"a":0.3},{"s":14,"f":181,"a":0.06},{"s":14,"f":206,"a":0.35},{"s":14,"f":231,"a":0.5},
{"s":14,"f":256,"a":0.05},{"s":14,"f":281,"a":0.35},{"s":14,"f":306,"a":0.1},{"s":14,"f":331,"a":0.45},{"s":14,"f":356,"a":0.05},{"s":14,"f":381,"a":0.4},{"s":14,"f":406,"a":0.1},{"s":14,"f":431,"a":0.3},{"s":14,"f":456,"a":0.08},{"s":14,"f":481,"a":0.5},
{"s":14,"f":506,"a":0.1},{"s":14,"f":531,"a":0.35},{"s":14,"f":556,"a":0.06},{"s":14,"f":581,"a":0.28},{"s":14,"f":606,"a":0.05},{"s":14,"f":631,"a":0.22},{"s":14,"f":656,"a":0.04},{"s":14,"f":681,"a":0.18},{"s":14,"f":706,"a":0.03},{"s":14,"f":731,"a":0.17},
{"s":14,"f":756,"a":0.04},{"s":14,"f":781,"a":0.24},{"s":14,"f":806,"a":0.03},{"s":14,"f":831,"a":0.15},{"s":14,"f":856,"a":0.02},{"s":14,"f":881,"a":0.12},{"s":14,"f":906,"a":0.03},{"s":14,"f":931,"a":0.15},{"s":14,"f":956,"a":0.04},{"s":14,"f":981,"a":0.1},
{"s":14,"f":1006,"a":0.01},{"s":14,"f":1031,"a":0.09},{"s":14,"f":1056,"a":0.02},{"s":14,"f":1081,"a":0.1},{"s":14,"f":1106,"a":0.01},{"s":14,"f":1131,"a":0.08},{"s":14,"f":1156,"a":0.02},{"s":14,"f":1181,"a":0.1},{"s":14,"f":1206,"a":0.01},{"s":14,"f":1231,"a":0.09},
{"s":14,"f":1256,"a":0.02},{"s":14,"f":1281,"a":0.08},{"s":14,"f":1306,"a":0.01},{"s":14,"f":1331,"a":0.1},{"s":14,"f":1356,"a":0.02},{"s":14,"f":1381,"a":0.09},{"s":14,"f":1406,"a":0.01},{"s":14,"f":1431,"a":0.11},{"s":14,"f":1456,"a":0.02},{"s":14,"f":1481,"a":0.12},
{"s":14,"f":1506,"a":0.03},{"s":14,"f":1531,"a":0.14},{"s":14,"f":1556,"a":0.02},{"s":14,"f":1581,"a":0.16},{"s":14,"f":1606,"a":0.03},{"s":14,"f":1631,"a":0.15},{"s":14,"f":1656,"a":0.04},{"s":14,"f":1681,"a":0.2},{"s":14,"f":1706,"a":0.03},{"s":14,"f":1731,"a":0.22},
{"s":14,"f":1756,"a":0.05},{"s":14,"f":1781,"a":0.27},{"s":14,"f":1806,"a":0.04},{"s":14,"f":1831,"a":0.3},{"s":14,"f":1856,"a":0.06},{"s":14,"f":1881,"a":0.36},{"s":14,"f":1906,"a":0.05},{"s":14,"f":1931,"a":0.4},{"s":14,"f":1956,"a":0.07},{"s":14,"f":1981,"a":0.45},{"s":14,"f":2000,"a":0.35},
{"s":15,"f":0,"a":0.45},{"s":15,"f":18,"a":0.1},{"s":15,"f":43,"a":0.3},{"s":15,"f":68,"a":0.05},{"s":15,"f":93,"a":0.25},{"s":15,"f":118,"a":0.12},{"s":15,"f":143,"a":0.3},{"s":15,"f":168,"a":0.06},{"s":15,"f":193,"a":0.28},{"s":15,"f":218,"a":0.1},{"s":15,"f":243,"a":0.35},
{"s":15,"f":268,"a":0.08},{"s":15,"f":293,"a":0.3},{"s":15,"f":318,"a":0.05},{"s":15,"f":343,"a":0.35},{"s":15,"f":368,"a":0.12},{"s":15,"f":393,"a":0.25},{"s":15,"f":418,"a":0.04},{"s":15,"f":443,"a":0.28},{"s":15,"f":468,"a":0.1},{"s":15,"f":493,"a":0.4},
{"s":15,"f":518,"a":0.05},{"s":15,"f":543,"a":0.26},{"s":15,"f":568,"a":0.08},{"s":15,"f":593,"a":0.22},{"s":15,"f":618,"a":0.04},{"s":15,"f":643,"a":0.2},{"s":15,"f":668,"a":0.06},{"s":15,"f":693,"a":0.15},{"s":15,"f":718,"a":0.02},{"s":15,"f":743,"a":0.14},
{"s":15,"f":768,"a":0.05},{"s":15,"f":793,"a":0.18},{"s":15,"f":818,"a":0.04},{"s":15,"f":843,"a":0.12},{"s":15,"f":868,"a":0.03},{"s":15,"f":893,"a":0.1},{"s":15,"f":918,"a":0.02},{"s":15,"f":943,"a":0.12},{"s":15,"f":968,"a":0.03},{"s":15,"f":993,"a":0.08},
{"s":15,"f":1018,"a":0.02},{"s":15,"f":1043,"a":0.07},{"s":15,"f":1068,"a":0.01},{"s":15,"f":1093,"a":0.08},{"s":15,"f":1118,"a":0.03},{"s":15,"f":1143,"a":0.07},{"s":15,"f":1168,"a":0.01},{"s":15,"f":1193,"a":0.08},{"s":15,"f":1218,"a":0.02},{"s":15,"f":1243,"a":0.06},
{"s":15,"f":1268,"a":0.01},{"s":15,"f":1293,"a":0.08},{"s":15,"f":1318,"a":0.02},{"s":15,"f":1343,"a":0.07},{"s":15,"f":1368,"a":0.01},{"s":15,"f":1393,"a":0.08},{"s":15,"f":1418,"a":0.03},{"s":15,"f":1443,"a":0.09},{"s":15,"f":1468,"a":0.01},{"s":15,"f":1493,"a":0.1},
{"s":15,"f":1518,"a":0.02},{"s":15,"f":1543,"a":0.12},{"s":15,"f":1568,"a":0.03},{"s":15,"f":1593,"a":0.13},{"s":15,"f":1618,"a":0.02},{"s":15,"f":1643,"a":0.16},{"s":15,"f":1668,"a":0.04},{"s":15,"f":1693,"a":0.18},{"s":15,"f":1718,"a":0.03},{"s":15,"f":1743,"a":0.2},
{"s":15,"f":1768,"a":0.04},{"s":15,"f":1793,"a":0.22},{"s":15,"f":1818,"a":0.06},{"s":15,"f":1843,"a":0.25},{"s":15,"f":1868,"a":0.05},{"s":15,"f":1893,"a":0.3},{"s":15,"f":1918,"a":0.04},{"s":15,"f":1943,"a":0.35},{"s":15,"f":1968,"a":0.06},{"s":15,"f":1993,"a":0.32},{"s":15,"f":2000,"a":0.15},
{"s":16,"f":0,"a":0.2},{"s":16,"f":12,"a":0.6},{"s":16,"f":37,"a":0.15},{"s":16,"f":62,"a":0.2},{"s":16,"f":87,"a":0.05},{"s":16,"f":112,"a":0.25},{"s":16,"f":137,"a":0.1},{"s":16,"f":162,"a":0.2},{"s":16,"f":187,"a":0.08},{"s":16,"f":212,"a":0.6},{"s":16,"f":237,"a":0.3},
{"s":16,"f":262,"a":0.12},{"s":16,"f":287,"a":0.2},{"s":16,"f":312,"a":0.3},{"s":16,"f":337,"a":0.1},{"s":16,"f":362,"a":0.2},{"s":16,"f":387,"a":0.3},{"s":16,"f":412,"a":0.12},{"s":16,"f":437,"a":0.2},{"s":16,"f":462,"a":0.45},{"s":16,"f":487,"a":0.35},
{"s":16,"f":512,"a":0.15},{"s":16,"f":537,"a":0.2},{"s":16,"f":562,"a":0.1},{"s":16,"f":587,"a":0.18},{"s":16,"f":612,"a":0.12},{"s":16,"f":637,"a":0.1},{"s":16,"f":662,"a":0.15},{"s":16,"f":687,"a":0.08},{"s":16,"f":712,"a":0.1},{"s":16,"f":737,"a":0.12},
{"s":16,"f":762,"a":0.15},{"s":16,"f":787,"a":0.1},{"s":16,"f":812,"a":0.08},{"s":16,"f":837,"a":0.1},{"s":16,"f":862,"a":0.06},{"s":16,"f":887,"a":0.08},{"s":16,"f":912,"a":0.1},{"s":16,"f":937,"a":0.06},{"s":16,"f":962,"a":0.1},{"s":16,"f":987,"a":0.05},
{"s":16,"f":1012,"a":0.06},{"s":16,"f":1037,"a":0.04},{"s":16,"f":1062,"a":0.06},{"s":16,"f":1087,"a":0.05},{"s":16,"f":1112,"a":0.07},{"s":16,"f":1137,"a":0.04},{"s":16,"f":1162,"a":0.06},{"s":16,"f":1187,"a":0.05},{"s":16,"f":1212,"a":0.07},{"s":16,"f":1237,"a":0.04},
{"s":16,"f":1262,"a":0.05},{"s":16,"f":1287,"a":0.06},{"s":16,"f":1312,"a":0.04},{"s":16,"f":1337,"a":0.06},{"s":16,"f":1362,"a":0.05},{"s":16,"f":1387,"a":0.07},{"s":16,"f":1412,"a":0.05},{"s":16,"f":1437,"a":0.06},{"s":16,"f":1462,"a":0.08},{"s":16,"f":1487,"a":0.06},
{"s":16,"f":1512,"a":0.09},{"s":16,"f":1537,"a":0.07},{"s":16,"f":1562,"a":0.1},{"s":16,"f":1587,"a":0.08},{"s":16,"f":1612,"a":0.12},{"s":16,"f":1637,"a":0.1},{"s":16,"f":1662,"a":0.13},{"s":16,"f":1687,"a":0.11},{"s":16,"f":1712,"a":0.15},{"s":16,"f":1737,"a":0.12},
{"s":16,"f":1762,"a":0.18},{"s":16,"f":1787,"a":0.15},{"s":16,"f":1812,"a":0.2},{"s":16,"f":1837,"a":0.16},{"s":16,"f":1862,"a":0.22},{"s":16,"f":1887,"a":0.18},{"s":16,"f":1912,"a":0.25},{"s":16,"f":1937,"a":0.2},{"s":16,"f":1962,"a":0.28},{"s":16,"f":1987,"a":0.22},{"s":16,"f":2000,"a":0.25},
{"s":17,"f":0,"a":0.55},{"s":17,"f":6,"a":0.7},{"s":17,"f":31,"a":0.3},{"s":17,"f":56,"a":0.15},{"s":17,"f":81,"a":0.2},{"s":17,"f":106,"a":0.28},{"s":17,"f":131,"a":0.15},{"s":17,"f":156,"a":0.22},{"s":17,"f":181,"a":0.12},{"s":17,"f":206,"a":0.65},{"s":17,"f":231,"a":0.4},
{"s":17,"f":256,"a":0.2},{"s":17,"f":281,"a":0.28},{"s":17,"f":306,"a":0.35},{"s":17,"f":331,"a":0.5},{"s":17,"f":356,"a":0.25},{"s":17,"f":381,"a":0.3},{"s":17,"f":406,"a":0.2},{"s":17,"f":431,"a":0.15},{"s":17,"f":456,"a":0.55},{"s":17,"f":481,"a":0.45},
{"s":17,"f":506,"a":0.32},{"s":17,"f":531,"a":0.25},{"s":17,"f":556,"a":0.2},{"s":17,"f":581,"a":0.25},{"s":17,"f":606,"a":0.18},{"s":17,"f":631,"a":0.15},{"s":17,"f":656,"a":0.12},{"s":17,"f":681,"a":0.14},{"s":17,"f":706,"a":0.1},{"s":17,"f":731,"a":0.08},
{"s":17,"f":756,"a":0.18},{"s":17,"f":781,"a":0.2},{"s":17,"f":806,"a":0.1},{"s":17,"f":831,"a":0.07},{"s":17,"f":856,"a":0.09},{"s":17,"f":881,"a":0.05},{"s":17,"f":906,"a":0.07},{"s":17,"f":931,"a":0.1},{"s":17,"f":956,"a":0.14},{"s":17,"f":981,"a":0.04},
{"s":17,"f":1006,"a":0.05},{"s":17,"f":1031,"a":0.07},{"s":17,"f":1056,"a":0.03},{"s":17,"f":1081,"a":0.06},{"s":17,"f":1106,"a":0.04},{"s":17,"f":1131,"a":0.07},{"s":17,"f":1156,"a":0.03},{"s":17,"f":1181,"a":0.05},{"s":17,"f":1206,"a":0.06},{"s":17,"f":1231,"a":0.03},
{"s":17,"f":1256,"a":0.05},{"s":17,"f":1281,"a":0.03},{"s":17,"f":1306,"a":0.06},{"s":17,"f":1331,"a":0.04},{"s":17,"f":1356,"a":0.05},{"s":17,"f":1381,"a":0.03},{"s":17,"f":1406,"a":0.06},{"s":17,"f":1431,"a":0.04},{"s":17,"f":1456,"a":0.07},{"s":17,"f":1481,"a":0.05},
{"s":17,"f":1506,"a":0.06},{"s":17,"f":1531,"a":0.08},{"s":17,"f":1556,"a":0.05},{"s":17,"f":1581,"a":0.09},{"s":17,"f":1606,"a":0.07},{"s":17,"f":1631,"a":0.1},{"s":17,"f":1656,"a":0.06},{"s":17,"f":1681,"a":0.12},{"s":17,"f":1706,"a":0.08},{"s":17,"f":1731,"a":0.14},
{"s":17,"f":1756,"a":0.1},{"s":17,"f":1781,"a":0.16},{"s":17,"f":1806,"a":0.12},{"s":17,"f":1831,"a":0.2},{"s":17,"f":1856,"a":0.1},{"s":17,"f":1881,"a":0.25},{"s":17,"f":1906,"a":0.12},{"s":17,"f":1931,"a":0.3},{"s":17,"f":1956,"a":0.15},{"s":17,"f":1981,"a":0.28},{"s":17,"f":2000,"a":0.18},
{"s":18,"f":0,"a":0.02},{"s":18,"f":18,"a":0.2},{"s":18,"f":43,"a":0.05},{"s":18,"f":68,"a":0.12},{"s":18,"f":93,"a":0.02},{"s":18,"f":118,"a":0.15},{"s":18,"f":143,"a":0.04},{"s":18,"f":168,"a":0.1},{"s":18,"f":193,"a":0.02},{"s":18,"f":218,"a":0.25},{"s":18,"f":243,"a":0.08},
{"s":18,"f":268,"a":0.03},{"s":18,"f":293,"a":0.12},{"s":18,"f":318,"a":0.05},{"s":18,"f":343,"a":0.18},{"s":18,"f":368,"a":0.02},{"s":18,"f":393,"a":0.1},{"s":18,"f":418,"a":0.05},{"s":18,"f":443,"a":0.08},{"s":18,"f":468,"a":0.2},{"s":18,"f":493,"a":0.12},
{"s":18,"f":518,"a":0.04},{"s":18,"f":543,"a":0.1},{"s":18,"f":568,"a":0.02},{"s":18,"f":593,"a":0.08},{"s":18,"f":618,"a":0.03},{"s":18,"f":643,"a":0.06},{"s":18,"f":668,"a":0.02},{"s":18,"f":693,"a":0.05},{"s":18,"f":718,"a":0.01},{"s":18,"f":743,"a":0.04},
{"s":18,"f":768,"a":0.02},{"s":18,"f":793,"a":0.08},{"s":18,"f":818,"a":0.01},{"s":18,"f":843,"a":0.05},{"s":18,"f":868,"a":0.02},{"s":18,"f":893,"a":0.04},{"s":18,"f":918,"a":0.01},{"s":18,"f":943,"a":0.05},{"s":18,"f":968,"a":0.02},{"s":18,"f":993,"a":0.03},
{"s":18,"f":1018,"a":0.01},{"s":18,"f":1043,"a":0.03},{"s":18,"f":1068,"a":0.02},{"s":18,"f":1093,"a":0.04},{"s":18,"f":1118,"a":0.01},{"s":18,"f":1143,"a":0.03},{"s":18,"f":1168,"a":0.02},{"s":18,"f":1193,"a":0.04},{"s":18,"f":1218,"a":0.01},{"s":18,"f":1243,"a":0.03},
{"s":18,"f":1268,"a":0.02},{"s":18,"f":1293,"a":0.04},{"s":18,"f":1318,"a":0.01},{"s":18,"f":1343,"a":0.03},{"s":18,"f":1368,"a":0.02},{"s":18,"f":1393,"a":0.04},{"s":18,"f":1418,"a":0.01},{"s":18,"f":1443,"a":0.03},{"s":18,"f":1468,"a":0.02},{"s":18,"f":1493,"a":0.05},
{"s":18,"f":1518,"a":0.01},{"s":18,"f":1543,"a":0.04},{"s":18,"f":1568,"a":0.02},{"s":18,"f":1593,"a":0.05},{"s":18,"f":1618,"a":0.01},{"s":18,"f":1643,"a":0.06},{"s":18,"f":1668,"a":0.02},{"s":18,"f":1693,"a":0.05},{"s":18,"f":1718,"a":0.03},{"s":18,"f":1743,"a":0.07},
{"s":18,"f":1768,"a":0.02},{"s":18,"f":1793,"a":0.08},{"s":18,"f":1818,"a":0.03},{"s":18,"f":1843,"a":0.1},{"s":18,"f":1868,"a":0.02},{"s":18,"f":1893,"a":0.12},{"s":18,"f":1918,"a":0.04},{"s":18,"f":1943,"a":0.15},{"s":18,"f":1968,"a":0.03},{"s":18,"f":1993,"a":0.12},{"s":18,"f":2000,"a":0.06}
],
"black":[
{"f":0,"a":0.46},{"f":8,"a":0.15},{"f":18,"a":0.35},{"f":30,"a":0.53},{"f":40,"a":0.45},{"f":55,"a":0.25},{"f":70,"a":0.12},{"f":85,"a":0.1},{"f":97,"a":0.28},{"f":110,"a":0.47},{"f":120,"a":0.44},{"f":132,"a":0.47},{"f":142,"a":0.42},{"f":155,"a":0.32},{"f":168,"a":0.25},{"f":180,"a":0.27},{"f":190,"a":0.6},{"f":200,"a":0.88},{"f":210,"a":0.96},{"f":220,"a":0.9},{"f":230,"a":0.7},{"f":242,"a":0.42},{"f":255,"a":0.25},{"f":265,"a":0.2},{"f":275,"a":0.3},{"f":285,"a":0.45},{"f":295,"a":0.5},{"f":310,"a":0.52},{"f":322,"a":0.56},{"f":332,"a":0.45},{"f":342,"a":0.18},{"f":352,"a":0.2},{"f":362,"a":0.45},{"f":372,"a":0.58},{"f":382,"a":0.45},{"f":395,"a":0.2},{"f":405,"a":0.3},{"f":412,"a":0.44},{"f":420,"a":0.3},{"f":430,"a":0.28},{"f":440,"a":0.55},{"f":450,"a":0.8},{"f":460,"a":0.95},{"f":470,"a":1.0},{"f":478,"a":0.92},{"f":488,"a":0.75},{"f":498,"a":0.55},{"f":508,"a":0.45},{"f":520,"a":0.4},{"f":532,"a":0.43},{"f":545,"a":0.47},{"f":555,"a":0.44},{"f":565,"a":0.32},{"f":575,"a":0.28},{"f":588,"a":0.3},{"f":600,"a":0.25},{"f":615,"a":0.2},{"f":625,"a":0.17},{"f":638,"a":0.19},{"f":652,"a":0.24},{"f":665,"a":0.17},{"f":680,"a":0.18},{"f":695,"a":0.14},{"f":712,"a":0.12},{"f":728,"a":0.15},{"f":745,"a":0.2},{"f":760,"a":0.26},{"f":772,"a":0.28},{"f":785,"a":0.22},{"f":800,"a":0.15},{"f":818,"a":0.09},{"f":833,"a":0.12},{"f":845,"a":0.11},{"f":860,"a":0.08},{"f":880,"a":0.05},{"f":898,"a":0.05},{"f":915,"a":0.1},{"f":930,"a":0.14},{"f":944,"a":0.155},{"f":957,"a":0.14},{"f":975,"a":0.09},{"f":992,"a":0.06},{"f":1005,"a":0.05},{"f":1025,"a":0.07},{"f":1045,"a":0.09},{"f":1063,"a":0.1},{"f":1080,"a":0.11},{"f":1100,"a":0.13},{"f":1120,"a":0.15},{"f":1135,"a":0.15},{"f":1155,"a":0.13},{"f":1171,"a":0.14},{"f":1190,"a":0.12},{"f":1213,"a":0.1},{"f":1235,"a":0.09},{"f":1250,"a":0.08},{"f":1267,"a":0.078},{"f":1285,"a":0.08},{"f":1299,"a":0.09},{"f":1320,"a":0.085},{"f":1341,"a":0.08},{"f":1360,"a":0.1},{"f":1373,"a":0.126},{"f":1390,"a":0.12},{"f":1410,"a":0.115},{"f":1437,"a":0.108},{"f":1460,"a":0.11},{"f":1490,"a":0.12},{"f":1501,"a":0.13},{"f":1533,"a":0.125},{"f":1555,"a":0.13},{"f":1575,"a":0.14},{"f":1607,"a":0.157},{"f":1639,"a":0.168},{"f":1671,"a":0.168},{"f":1690,"a":0.19},{"f":1703,"a":0.21},{"f":1731,"a":0.246},{"f":1757,"a":0.22},{"f":1779,"a":0.27},{"f":1795,"a":0.28},{"f":1811,"a":0.3},{"f":1843,"a":0.327},{"f":1875,"a":0.354},{"f":1890,"a":0.37},{"f":1907,"a":0.35},{"f":1926,"a":0.413},{"f":1955,"a":0.43},{"f":1965,"a":0.4},{"f":1975,"a":0.34},{"f":1990,"a":0.38},{"f":2000,"a":0.37}
],
"blue":[
{"f":0,"a":0.05},{"f":10,"a":0.1},{"f":22,"a":0.146},{"f":38,"a":0.28},{"f":48,"a":0.17},{"f":56,"a":0.45},{"f":64,"a":0.73},{"f":72,"a":0.55},{"f":80,"a":0.3},{"f":86,"a":0.13},{"f":95,"a":0.35},{"f":102,"a":0.57},{"f":113,"a":0.49},{"f":123,"a":0.5},{"f":134,"a":0.52},{"f":145,"a":0.42},{"f":155,"a":0.38},{"f":168,"a":0.35},{"f":175,"a":0.5},{"f":182,"a":0.8},{"f":192,"a":1.0},{"f":200,"a":0.96},{"f":210,"a":0.99},{"f":216,"a":1.0},{"f":230,"a":0.72},{"f":246,"a":0.35},{"f":257,"a":0.22},{"f":265,"a":0.33},{"f":278,"a":0.56},{"f":288,"a":0.49},{"f":303,"a":0.45},{"f":315,"a":0.44},{"f":328,"a":0.3},{"f":340,"a":0.2},{"f":350,"a":0.3},{"f":362,"a":0.45},{"f":369,"a":0.47},{"f":380,"a":0.38},{"f":395,"a":0.3},{"f":416,"a":0.25},{"f":432,"a":0.54},{"f":448,"a":0.7},{"f":464,"a":0.785},{"f":475,"a":0.76},{"f":486,"a":0.65},{"f":502,"a":0.43},{"f":512,"a":0.3},{"f":520,"a":0.2},{"f":530,"a":0.28},{"f":545,"a":0.4},{"f":551,"a":0.43},{"f":558,"a":0.38},{"f":566,"a":0.3},{"f":579,"a":0.34},{"f":590,"a":0.3},{"f":600,"a":0.2},{"f":610,"a":0.13},{"f":626,"a":0.055},{"f":647,"a":0.12},{"f":669,"a":0.05},{"f":690,"a":0.045},{"f":711,"a":0.025},{"f":727,"a":0.05},{"f":743,"a":0.09},{"f":760,"a":0.15},{"f":775,"a":0.2},{"f":790,"a":0.13},{"f":800,"a":0.08},{"f":818,"a":0.034},{"f":834,"a":0.064},{"f":860,"a":0.03},{"f":898,"a":0.02},{"f":915,"a":0.04},{"f":934,"a":0.065},{"f":957,"a":0.058},{"f":975,"a":0.045},{"f":1000,"a":0.05},{"f":1010,"a":0.018},{"f":1025,"a":0.055},{"f":1040,"a":0.02},{"f":1063,"a":0.047},{"f":1085,"a":0.025},{"f":1120,"a":0.04},{"f":1159,"a":0.01},{"f":1185,"a":0.025},{"f":1210,"a":0.02},{"f":1239,"a":0.055},{"f":1255,"a":0.01},{"f":1277,"a":0.06},{"f":1298,"a":0.01},{"f":1320,"a":0.025},{"f":1345,"a":0.05},{"f":1379,"a":0.09},{"f":1393,"a":0.07},{"f":1405,"a":0.025},{"f":1421,"a":0.085},{"f":1445,"a":0.055},{"f":1469,"a":0.1},{"f":1490,"a":0.146},{"f":1511,"a":0.078},{"f":1533,"a":0.06},{"f":1554,"a":0.05},{"f":1565,"a":0.035},{"f":1575,"a":0.07},{"f":1597,"a":0.12},{"f":1613,"a":0.1},{"f":1634,"a":0.17},{"f":1650,"a":0.125},{"f":1666,"a":0.14},{"f":1682,"a":0.115},{"f":1698,"a":0.09},{"f":1714,"a":0.16},{"f":1730,"a":0.13},{"f":1746,"a":0.07},{"f":1762,"a":0.14},{"f":1778,"a":0.18},{"f":1794,"a":0.048},{"f":1810,"a":0.13},{"f":1826,"a":0.04},{"f":1837,"a":0.2},{"f":1848,"a":0.12},{"f":1859,"a":0.405},{"f":1870,"a":0.31},{"f":1880,"a":0.22},{"f":1891,"a":0.4},{"f":1902,"a":0.28},{"f":1910,"a":0.12},{"f":1917,"a":0.33},{"f":1928,"a":0.05},{"f":1938,"a":0.15},{"f":1948,"a":0.05},{"f":1959,"a":0.24},{"f":1970,"a":0.29},{"f":1980,"a":0.15},{"f":1990,"a":0.24},{"f":2000,"a":0.34}
]
},
"layer":[
{"data":{"name":"red"},"mark":{"type":"line","color":"#ff0000","strokeWidth":1.2,"clip":true},
"encoding":{
"x":{"field":"f","type":"quantitative","scale":{"domain":[0,2000],"nice":false},"axis":{"values":[0,500,1000,1500,2000],"format":"d","title":"Frekvens (Hz)","labelPadding":5,"titlePadding":8}},
"y":{"field":"a","type":"quantitative","scale":{"domain":[0,1.1],"nice":false},"axis":{"values":[0,0.2,0.4,0.6,0.8,1],"format":".1~f","title":"Amplitud (normaliserad acceleration)","labelPadding":8,"titlePadding":11}},
"detail":{"field":"s","type":"nominal"}}},
{"data":{"name":"black"},"mark":{"type":"line","color":"#000000","strokeWidth":3.6,"strokeJoin":"round","clip":true},
"encoding":{"x":{"field":"f","type":"quantitative"},"y":{"field":"a","type":"quantitative"}}},
{"data":{"name":"blue"},"mark":{"type":"line","color":"#0000ff","strokeWidth":4,"strokeJoin":"round","clip":true},
"encoding":{"x":{"field":"f","type":"quantitative"},"y":{"field":"a","type":"quantitative"}}}
]
}
